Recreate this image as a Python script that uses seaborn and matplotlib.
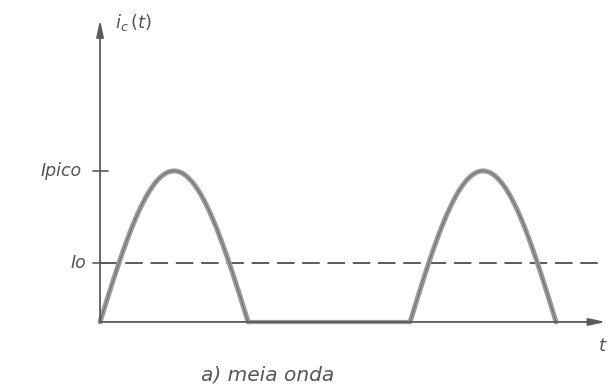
import numpy as np
import pandas as pd
import matplotlib
matplotlib.use("Agg")
import matplotlib.pyplot as plt
import seaborn as sns

# Half-wave rectified current: pulse intervals (time units), peak and mean level
pulse_starts = [0.0, 2.067]
pulse_ends = [0.987, 3.04]
i_peak = 1.0
i_mean = 0.39
y_tick_labels = ["Io", "Ipico"]
y_tick_values = [i_mean, i_peak]

sns.set_style("white")
plt.rcParams["font.family"] = ["DejaVu Sans"]

fig = plt.figure(figsize=(6.09, 3.92), dpi=100)
ax = fig.add_axes([0, 0, 1, 1])
ax.set_xlim(-0.667, 3.393)
ax.set_ylim(-0.464, 2.132)
ax.axis("off")

ink = "#5a5a5a"
curve = "#9a9a9a"
text_col = "#555555"

# build the waveform: half-sine arcs separated by zero intervals
rows = []
for k, (a, b) in enumerate(zip(pulse_starts, pulse_ends)):
    tt = np.linspace(a, b, 120)
    ii = i_peak * np.sin(np.pi * (tt - a) / (b - a))
    for t, i in zip(tt, ii):
        rows.append({"t": t, "i": max(i, 0.0), "seg": f"p{k}"})
df = pd.DataFrame(rows)
flat = pd.DataFrame({"t": [pulse_ends[0], pulse_starts[1]], "i": [0.0, 0.0]})

# axes with arrowheads
ax.annotate("", xy=(3.37, 0), xytext=(0, 0),
            arrowprops=dict(arrowstyle="-|>,head_length=1.0,head_width=0.22",
                            color=ink, lw=1.3, shrinkA=0, shrinkB=0))
ax.annotate("", xy=(0, 2.0), xytext=(0, 0),
            arrowprops=dict(arrowstyle="-|>,head_length=1.0,head_width=0.22",
                            color=ink, lw=1.3, shrinkA=0, shrinkB=0))

# mean level
ax.axhline(i_mean, xmin=(0 + 0.667) / 4.06, xmax=(3.32 + 0.667) / 4.06,
           color=ink, lw=1.4, ls=(0, (9, 4)))

# waveform
sns.lineplot(data=flat, x="t", y="i", ax=ax, color=curve, lw=3.0, legend=False)
for seg, g in df.groupby("seg"):
    sns.lineplot(data=g, x="t", y="i", ax=ax, color=curve, lw=3.6,
                 legend=False, sort=False, estimator=None)
    ax.plot(g["t"], g["i"], color="#666666", lw=0.6)

# y ticks and labels
for lab, v in zip(y_tick_labels, y_tick_values):
    ax.plot([-0.05, 0.05], [v, v], color=ink, lw=1.2)
    ax.text(-0.12 if lab == "Ipico" else -0.09, v, lab, ha="right",
            va="center", fontsize=12.5, style="italic", color=text_col)

ax.text(0.1, 1.98, "$i_c\\,(t)$", ha="left", va="center", fontsize=13,
        color=text_col)
ax.text(3.35, -0.16, "$t$", ha="center", va="center", fontsize=13, color=text_col)
ax.text(1.12, -0.35, "a) meia onda", ha="center", va="center", fontsize=14.5,
        style="italic", color=text_col)

fig.savefig("out.png", dpi=100)
